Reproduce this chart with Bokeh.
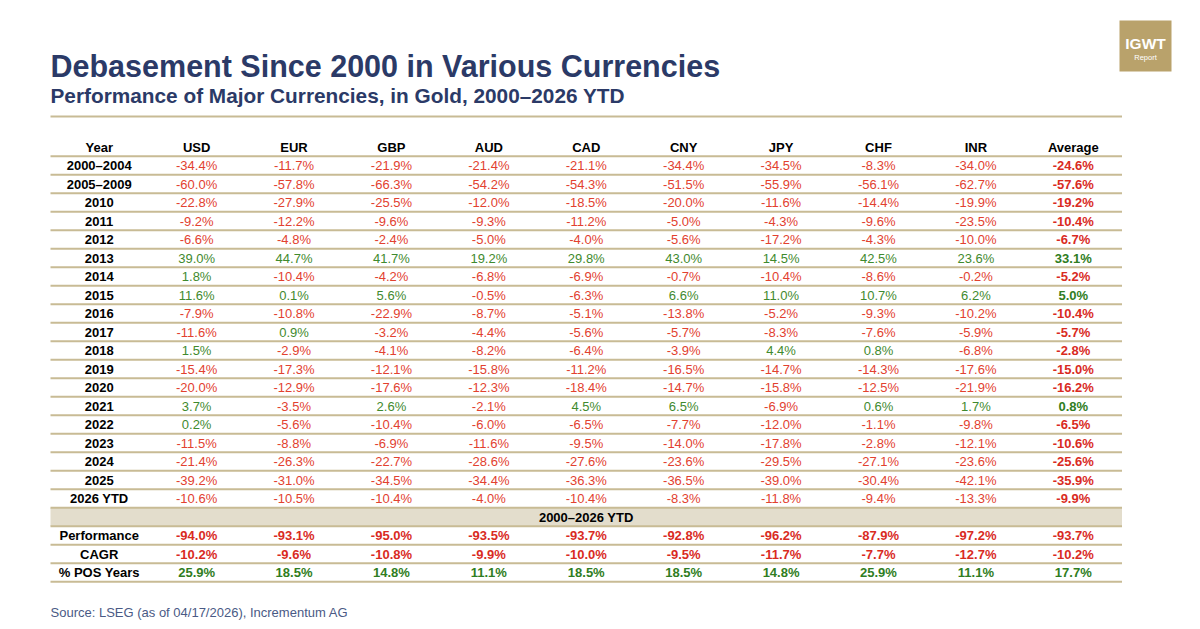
from bokeh.plotting import figure
from bokeh.models import Range1d, ColumnDataSource
from bokeh.core.properties import value
from bokeh.embed import file_html
from bokeh.resources import INLINE

# ---------------- data ----------------
title = "Debasement Since 2000 in Various Currencies"
subtitle = "Performance of Major Currencies, in Gold, 2000\u20132026 YTD"
source_note = "Source: LSEG (as of 04/17/2026), Incrementum AG"

columns = ["Year", "USD", "EUR", "GBP", "AUD", "CAD", "CNY", "JPY", "CHF", "INR", "Average"]
years = ["2000\u20132004", "2005\u20132009", "2010", "2011", "2012", "2013", "2014", "2015",
         "2016", "2017", "2018", "2019", "2020", "2021", "2022", "2023", "2024", "2025", "2026 YTD"]

usd = [-34.4, -60.0, -22.8, -9.2, -6.6, 39.0, 1.8, 11.6, -7.9, -11.6, 1.5, -15.4, -20.0, 3.7, 0.2, -11.5, -21.4, -39.2, -10.6]
eur = [-11.7, -57.8, -27.9, -12.2, -4.8, 44.7, -10.4, 0.1, -10.8, 0.9, -2.9, -17.3, -12.9, -3.5, -5.6, -8.8, -26.3, -31.0, -10.5]
gbp = [-21.9, -66.3, -25.5, -9.6, -2.4, 41.7, -4.2, 5.6, -22.9, -3.2, -4.1, -12.1, -17.6, 2.6, -10.4, -6.9, -22.7, -34.5, -10.4]
aud = [-21.4, -54.2, -12.0, -9.3, -5.0, 19.2, -6.8, -0.5, -8.7, -4.4, -8.2, -15.8, -12.3, -2.1, -6.0, -11.6, -28.6, -34.4, -4.0]
cad = [-21.1, -54.3, -18.5, -11.2, -4.0, 29.8, -6.9, -6.3, -5.1, -5.6, -6.4, -11.2, -18.4, 4.5, -6.5, -9.5, -27.6, -36.3, -10.4]
cny = [-34.4, -51.5, -20.0, -5.0, -5.6, 43.0, -0.7, 6.6, -13.8, -5.7, -3.9, -16.5, -14.7, 6.5, -7.7, -14.0, -23.6, -36.5, -8.3]
jpy = [-34.5, -55.9, -11.6, -4.3, -17.2, 14.5, -10.4, 11.0, -5.2, -8.3, 4.4, -14.7, -15.8, -6.9, -12.0, -17.8, -29.5, -39.0, -11.8]
chf = [-8.3, -56.1, -14.4, -9.6, -4.3, 42.5, -8.6, 10.7, -9.3, -7.6, 0.8, -14.3, -12.5, 0.6, -1.1, -2.8, -27.1, -30.4, -9.4]
inr = [-34.0, -62.7, -19.9, -23.5, -10.0, 23.6, -0.2, 6.2, -10.2, -5.9, -6.8, -17.6, -21.9, 1.7, -9.8, -12.1, -23.6, -42.1, -13.3]
average = [-24.6, -57.6, -19.2, -10.4, -6.7, 33.1, -5.2, 5.0, -10.4, -5.7, -2.8, -15.0, -16.2, 0.8, -6.5, -10.6, -25.6, -35.9, -9.9]

band_label = "2000\u20132026 YTD"
summary_labels = ["Performance", "CAGR", "% POS Years"]
performance = [-94.0, -93.1, -95.0, -93.5, -93.7, -92.8, -96.2, -87.9, -97.2, -93.7]
cagr = [-10.2, -9.6, -10.8, -9.9, -10.0, -9.5, -11.7, -7.7, -12.7, -10.2]
pos_years = [25.9, 18.5, 14.8, 11.1, 18.5, 18.5, 14.8, 25.9, 11.1, 17.7]

series = [usd, eur, gbp, aud, cad, cny, jpy, chf, inr, average]
summary = [performance, cagr, pos_years]

# ---------------- style / layout ----------------
NAVY = "#2b3a67"
RED = "#e2412f"
RED_B = "#d92b1f"
GREEN = "#3f8a2e"
GREEN_B = "#2f7d22"
RULE = "#c8bb95"
BAND = "#e3ddcc"
GOLD = "#b9a26b"
FONT = value("Liberation Sans")

W, H = 1184, 625
TL, TR = 50.0, 1121.5
ncol = len(columns)
colw = (TR - TL) / ncol
Y0 = 146.5
PITCH = 18.5

def col_x(i):
    return TL + colw * (i + 0.5)

def row_y(i):
    return Y0 + PITCH * i

p = figure(width=W, height=H, x_range=Range1d(0, W), y_range=Range1d(H, 0),
           output_backend="svg", toolbar_location=None, x_axis_type=None, y_axis_type=None,
           min_border=0, outline_line_color=None, background_fill_color="white",
           border_fill_color="white")
p.grid.visible = False

# titles
p.text(x=[TL], y=[65], text=[title], text_font=FONT, text_font_size="30.5px",
       text_font_style="bold", text_color=NAVY, text_baseline="alphabetic", text_align="left")
p.text(x=[TL], y=[95], text=[subtitle], text_font=FONT, text_font_size="20.8px",
       text_font_style="bold", text_color=NAVY, text_baseline="alphabetic", text_align="left")
p.segment(x0=[TL], y0=[116], x1=[TR], y1=[116], line_color=RULE, line_width=2)

# logo
p.quad(left=[1119], right=[1171], top=[20], bottom=[71], fill_color=GOLD, line_color=None)
p.text(x=[1145], y=[43], text=["IGWT"], text_font=FONT, text_font_size="15.5px",
       text_font_style="bold", text_color="white", text_align="center", text_baseline="middle")
p.text(x=[1145], y=[56.5], text=["Report"], text_font=FONT, text_font_size="7.5px",
       text_color="white", text_align="center", text_baseline="middle")

# band row
band_row = 1 + len(years)
p.quad(left=[TL], right=[TR], top=[row_y(band_row) - PITCH / 2], bottom=[row_y(band_row) + PITCH / 2],
       fill_color=BAND, line_color=None)

# rules under each row
nrows = 1 + len(years) + 1 + len(summary)
ys = [row_y(i) + PITCH / 2 for i in range(nrows)]
p.segment(x0=[TL] * nrows, y0=ys, x1=[TR] * nrows, y1=ys, line_color=RULE, line_width=2)

def fmt(v):
    return f"{v:.1f}%"

# collect text cells
reg = dict(x=[], y=[], text=[], color=[])
bold = dict(x=[], y=[], text=[], color=[])

for i, c in enumerate(columns):
    bold["x"].append(col_x(i)); bold["y"].append(row_y(0)); bold["text"].append(c); bold["color"].append("black")

for r, yr in enumerate(years):
    y = row_y(r + 1)
    bold["x"].append(col_x(0)); bold["y"].append(y); bold["text"].append(yr); bold["color"].append("black")
    for j, s in enumerate(series):
        v = s[r]
        if j == len(series) - 1:
            bold["x"].append(col_x(j + 1)); bold["y"].append(y); bold["text"].append(fmt(v))
            bold["color"].append(RED_B if v < 0 else GREEN_B)
        else:
            reg["x"].append(col_x(j + 1)); reg["y"].append(y); reg["text"].append(fmt(v))
            reg["color"].append(RED if v < 0 else GREEN)

bold["x"].append((TL + TR) / 2); bold["y"].append(row_y(band_row)); bold["text"].append(band_label)
bold["color"].append("black")

for k, (lab, vals) in enumerate(zip(summary_labels, summary)):
    y = row_y(band_row + 1 + k)
    bold["x"].append(col_x(0)); bold["y"].append(y); bold["text"].append(lab); bold["color"].append("black")
    for j, v in enumerate(vals):
        bold["x"].append(col_x(j + 1)); bold["y"].append(y); bold["text"].append(fmt(v))
        bold["color"].append(RED_B if v < 0 else GREEN_B)

p.text(x="x", y="y", text="text", text_color="color", source=ColumnDataSource(reg),
       text_font=FONT, text_font_size="13px", text_align="center", text_baseline="middle")
p.text(x="x", y="y", text="text", text_color="color", source=ColumnDataSource(bold),
       text_font=FONT, text_font_size="13px", text_font_style="bold",
       text_align="center", text_baseline="middle")

# source
p.text(x=[TL], y=[612], text=[source_note], text_font=FONT, text_font_size="13px",
       text_color="#4a5a85", text_align="left", text_baseline="middle")

open("out.html", "w").write(file_html(p, INLINE))
